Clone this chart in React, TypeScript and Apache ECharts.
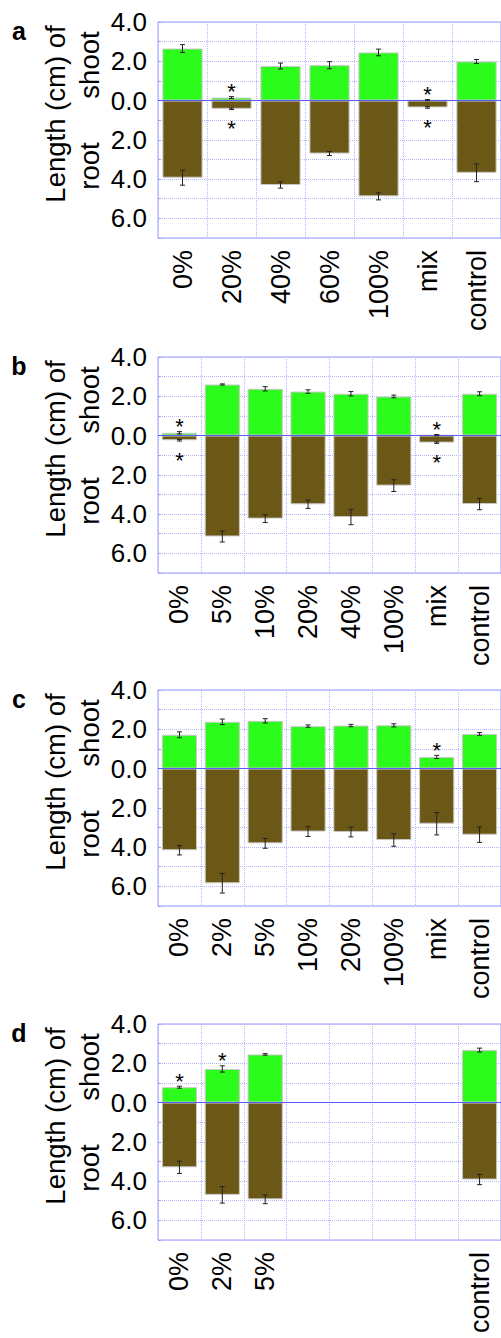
import React, { useEffect, useRef } from "react";
import * as echarts from "echarts";

// ---------- DATA ----------
const panelLetters = ["a", "b", "c", "d"];

const catsA = ["0%", "20%", "40%", "60%", "100%", "mix", "control"];
const shootA = [2.65, 0.15, 1.76, 1.8, 2.45, 0.02, 1.99];
const shootErrA = [0.2, 0.05, 0.15, 0.18, 0.17, 0.03, 0.1];
const rootA = [3.93, 0.42, 4.3, 2.7, 4.88, 0.35, 3.68];
const rootErrA = [0.38, 0.04, 0.16, 0.1, 0.18, 0.04, 0.45];
const sigShootA = [false, true, false, false, false, true, false];
const sigRootA = [false, true, false, false, false, true, false];

const catsB = ["0%", "5%", "10%", "20%", "40%", "100%", "mix", "control"];
const shootB = [0.14, 2.6, 2.38, 2.24, 2.13, 1.99, 0.02, 2.13];
const shootErrB = [0.06, 0.03, 0.11, 0.09, 0.11, 0.07, 0.03, 0.1];
const rootB = [0.24, 5.14, 4.23, 3.5, 4.15, 2.55, 0.36, 3.49];
const rootErrB = [0.04, 0.28, 0.2, 0.21, 0.39, 0.3, 0.04, 0.29];
const sigShootB = [true, false, false, false, false, false, true, false];
const sigRootB = [true, false, false, false, false, false, true, false];

const catsC = ["0%", "2%", "5%", "10%", "20%", "100%", "mix", "control"];
const shootC = [1.72, 2.38, 2.43, 2.16, 2.19, 2.2, 0.59, 1.76];
const shootErrC = [0.15, 0.14, 0.11, 0.06, 0.06, 0.08, 0.08, 0.07];
const rootC = [4.16, 5.84, 3.81, 3.21, 3.23, 3.64, 2.81, 3.37];
const rootErrC = [0.24, 0.5, 0.25, 0.25, 0.25, 0.32, 0.57, 0.39];
const sigShootC = [false, false, false, false, false, false, true, false];
const sigRootC = [false, false, false, false, false, false, false, false];

const catsD = ["0%", "2%", "5%", "", "", "", "", "control"];
const shootD = [0.78, 1.71, 2.45, null, null, null, null, 2.67];
const shootErrD = [0.05, 0.16, 0.04, null, null, null, null, 0.1];
const rootD = [3.3, 4.7, 4.93, null, null, null, null, 3.92];
const rootErrD = [0.31, 0.42, 0.22, null, null, null, null, 0.26];
const sigShootD = [true, true, false, false, false, false, false, false];
const sigRootD = [false, false, false, false, false, false, false, false];

const yTitle = "Length (cm) of";
const shootLabel = "shoot";
const rootLabel = "root";

// ---------- LAYOUT / STYLE ----------
const panels = [
  { cats: catsA, shoot: shootA, shootErr: shootErrA, root: rootA, rootErr: rootErrA, sigS: sigShootA, sigR: sigRootA },
  { cats: catsB, shoot: shootB, shootErr: shootErrB, root: rootB, rootErr: rootErrB, sigS: sigShootB, sigR: sigRootB },
  { cats: catsC, shoot: shootC, shootErr: shootErrC, root: rootC, rootErr: rootErrC, sigS: sigShootC, sigR: sigRootC },
  { cats: catsD, shoot: shootD, shootErr: shootErrD, root: rootD, rootErr: rootErrD, sigS: sigShootD, sigR: sigRootD },
];
const tops = [22, 357, 690, 1024];
const GRID_LEFT = 158;
const GRID_W = 344;
const GRID_H = 216;
const FONT = "'Liberation Sans', Arial, Helvetica, sans-serif";
const GREEN = "#2bfc1c";
const BROWN = "#6b5716";
const GRID_COLOR = "#b4b4ff";
const BORDER_COLOR = "#9a9aff";

export default function App() {
  const ref = useRef<HTMLDivElement>(null);

  useEffect(() => {
    document.body.style.margin = "0";
    if (!ref.current) return;
    const chart = echarts.init(ref.current, null, { renderer: "svg" });

    const grid: any[] = [];
    const xAxis: any[] = [];
    const yAxis: any[] = [];
    const series: any[] = [];
    const graphic: any[] = [];

    panels.forEach((p, i) => {
      grid.push({
        left: GRID_LEFT,
        width: GRID_W,
        top: tops[i],
        height: GRID_H,
        show: true,
        borderColor: BORDER_COLOR,
        borderWidth: 1,
        backgroundColor: "transparent",
      });
      xAxis.push({
        type: "category",
        gridIndex: i,
        data: p.cats,
        axisLine: { show: false },
        axisTick: { show: false },
        axisLabel: {
          rotate: 90,
          interval: 0,
          margin: 12,
          fontSize: 27,
          color: "#000",
          fontFamily: FONT,
        },
        splitLine: { show: true, lineStyle: { color: GRID_COLOR, type: "dotted", width: 1 } },
      });
      yAxis.push({
        type: "value",
        gridIndex: i,
        min: -7,
        max: 4,
        interval: 1,
        axisLine: { show: false },
        axisTick: { show: true, inside: true, length: 3, lineStyle: { color: BORDER_COLOR } },
        axisLabel: {
          margin: 11,
          fontSize: 26,
          color: "#000",
          fontFamily: FONT,
          formatter: (v: number) => (Math.round(v) % 2 === 0 ? Math.abs(v).toFixed(1) : ""),
        },
        splitLine: { show: true, lineStyle: { color: GRID_COLOR, type: "dotted", width: 1 } },
      });

      series.push({
        type: "bar",
        xAxisIndex: i,
        yAxisIndex: i,
        data: p.shoot,
        barWidth: "82%",
        barGap: "-100%",
        itemStyle: { color: GREEN, borderColor: "#c8c8c8", borderWidth: 1 },
        markLine: {
          silent: true,
          symbol: ["none", "none"],
          label: { show: false },
          lineStyle: { color: "#5a5aff", type: "solid", width: 1 },
          data: [{ yAxis: 0 }],
        },
        z: 2,
      });
      series.push({
        type: "bar",
        xAxisIndex: i,
        yAxisIndex: i,
        data: p.root.map((v) => (v == null ? null : -v)),
        barWidth: "82%",
        barGap: "-100%",
        itemStyle: { color: BROWN, borderColor: "#c8c8c8", borderWidth: 1 },
        z: 2,
      });

      // error bars
      const errData: any[] = [];
      p.cats.forEach((_, k) => {
        if (p.shoot[k] != null) errData.push([k, p.shoot[k], p.shootErr[k]]);
        if (p.root[k] != null) errData.push([k, -(p.root[k] as number), p.rootErr[k]]);
      });
      series.push({
        type: "custom",
        xAxisIndex: i,
        yAxisIndex: i,
        data: errData,
        encode: { x: 0, y: 1 },
        z: 5,
        renderItem: (params: any, api: any) => {
          const x = api.value(0);
          const v = api.value(1);
          const e = api.value(2);
          const hi = api.coord([x, v + e]);
          const lo = api.coord([x, v - e]);
          const cw = 2.5;
          const st = { stroke: "#222", lineWidth: 1 };
          return {
            type: "group",
            children: [
              { type: "line", shape: { x1: hi[0], y1: hi[1], x2: lo[0], y2: lo[1] }, style: st },
              { type: "line", shape: { x1: hi[0] - cw, y1: hi[1], x2: hi[0] + cw, y2: hi[1] }, style: st },
              { type: "line", shape: { x1: lo[0] - cw, y1: lo[1], x2: lo[0] + cw, y2: lo[1] }, style: st },
            ],
          };
        },
      });

      // significance asterisks
      const sigData: any[] = [];
      p.cats.forEach((_, k) => {
        if (p.sigS[k]) sigData.push([k, (p.shoot[k] as number) + (p.shootErr[k] as number), 1]);
        if (p.sigR[k]) sigData.push([k, -((p.root[k] as number) + (p.rootErr[k] as number)), -1]);
      });
      series.push({
        type: "custom",
        xAxisIndex: i,
        yAxisIndex: i,
        data: sigData,
        encode: { x: 0, y: 1 },
        z: 6,
        renderItem: (params: any, api: any) => {
          const x = api.value(0);
          const v = api.value(1);
          const dir = api.value(2);
          const c = api.coord([x, v]);
          const y = dir > 0 ? c[1] - 5 : c[1] + 19;
          return {
            type: "text",
            x: c[0],
            y,
            style: {
              text: "*",
              fontSize: 22,
              fontFamily: FONT,
              fill: "#000",
              align: "center",
              verticalAlign: "middle",
            },
          };
        },
      });

      const t = tops[i];
      graphic.push(
        {
          type: "text",
          x: 19,
          y: t + 9,
          style: {
            text: panelLetters[i],
            fontSize: 25,
            fontWeight: "bold",
            fontFamily: FONT,
            fill: "#000",
            align: "center",
            verticalAlign: "middle",
          },
        },
        {
          type: "text",
          x: 55,
          y: t + 92,
          rotation: Math.PI / 2,
          style: {
            text: yTitle,
            fontSize: 27.5,
            fontFamily: FONT,
            fill: "#000",
            align: "center",
            verticalAlign: "middle",
          },
        },
        {
          type: "text",
          x: 89,
          y: t + 43,
          rotation: Math.PI / 2,
          style: {
            text: shootLabel,
            fontSize: 27.5,
            fontFamily: FONT,
            fill: "#000",
            align: "center",
            verticalAlign: "middle",
          },
        },
        {
          type: "text",
          x: 89,
          y: t + 144,
          rotation: Math.PI / 2,
          style: {
            text: rootLabel,
            fontSize: 27.5,
            fontFamily: FONT,
            fill: "#000",
            align: "center",
            verticalAlign: "middle",
          },
        }
      );
    });

    chart.setOption({
      animation: false,
      backgroundColor: "#fff",
      grid,
      xAxis,
      yAxis,
      series,
      graphic,
    });

    return () => chart.dispose();
  }, []);

  return <div ref={ref} style={{ width: 501, height: 1338 }} />;
}
